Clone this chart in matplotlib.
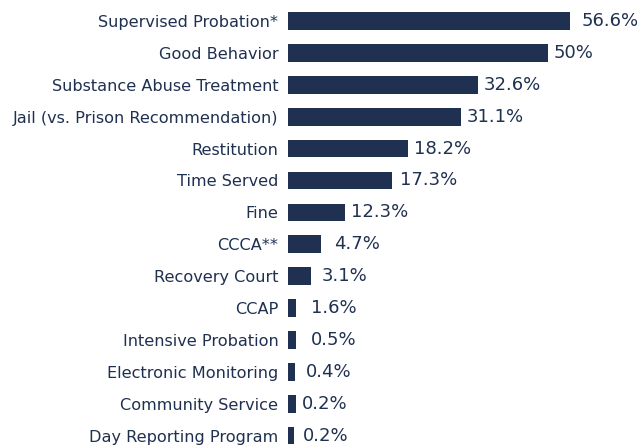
import matplotlib.pyplot as plt

categories = ['Supervised Probation*', 'Good Behavior', 'Substance Abuse Treatment',
              'Jail (vs. Prison Recommendation)', 'Restitution', 'Time Served', 'Fine',
              'CCCA**', 'Recovery Court', 'CCAP', 'Intensive Probation',
              'Electronic Monitoring', 'Community Service', 'Day Reporting Program']
# bar lengths as drawn in the picture (percent scale, not exactly proportional to labels)
bar_length = [56.6, 52.2, 38.1, 34.7, 24.1, 20.9, 11.4, 6.6, 4.6, 1.6, 1.6, 1.4, 1.6, 1.3]
value_labels = ['56.6%', '50%', '32.6%', '31.1%', '18.2%', '17.3%', '12.3%',
                '4.7%', '3.1%', '1.6%', '0.5%', '0.4%', '0.2%', '0.2%']
# gap between bar end and value label, in points
label_pad = [8.5, 4, 4.5, 4.5, 4, 5.5, 4.5, 9.5, 7.5, 10.5, 11, 8, 4.5, 6]

NAVY = '#1F3050'
plt.rcParams['font.family'] = ['DejaVu Sans']

fig = plt.figure(figsize=(6.41, 4.48), dpi=100)
ax = fig.add_axes([288 / 641, 0, 353 / 641, 1])

y = list(range(len(categories)))
ax.barh(y, bar_length, height=0.555, color=NAVY)

for i, (v, lab, pad) in enumerate(zip(bar_length, value_labels, label_pad)):
    ax.annotate(lab, xy=(v, i), xytext=(pad, 0), textcoords='offset points',
                ha='left', va='center', fontsize=13, color=NAVY)

ax.set_yticks(y)
ax.set_yticklabels(categories, fontsize=11.6, color=NAVY)
ax.tick_params(axis='y', length=0, pad=7)
ax.set_xticks([])
ax.set_xlim(0, 353 / 4.982)
ax.set_ylim(13.39, -0.66)
for s in ax.spines.values():
    s.set_visible(False)

fig.savefig('out.png', dpi=100, facecolor='white')
